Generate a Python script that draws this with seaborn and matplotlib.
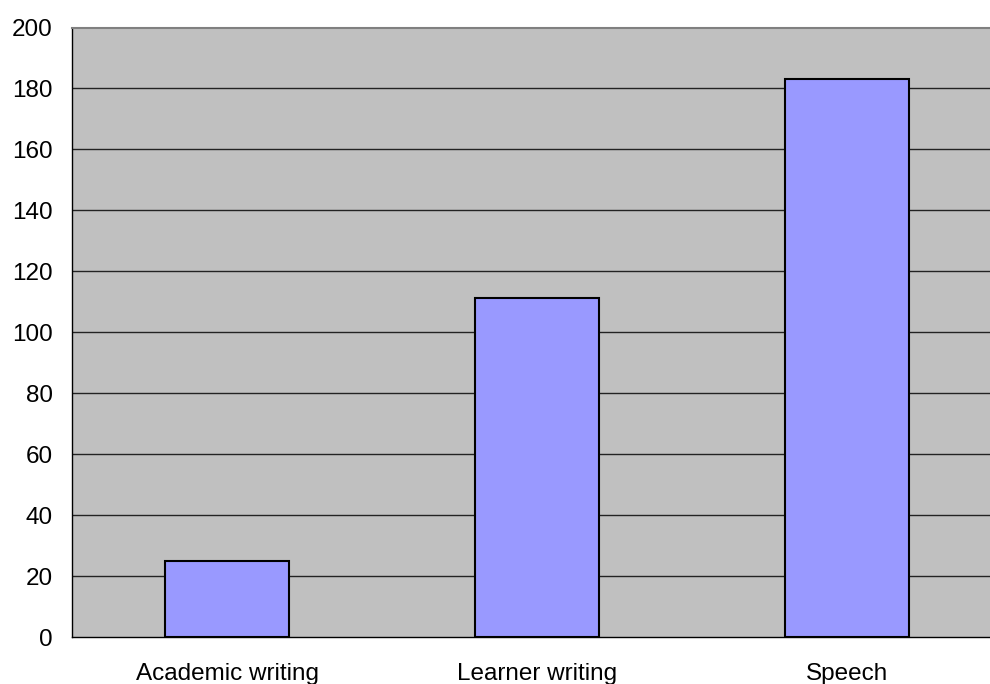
import matplotlib
matplotlib.use("Agg")
import matplotlib.pyplot as plt
import seaborn as sns
import pandas as pd
from matplotlib.ticker import FixedLocator, NullFormatter

categories = ["Academic writing", "Learner writing", "Speech"]
values = [25, 111.3, 183]
y_ticks = [0, 20, 40, 60, 80, 100, 120, 140, 160, 180, 200]

df = pd.DataFrame({"category": categories, "value": values})

sns.set_style("white")
plt.rcParams["font.family"] = ["Liberation Sans", "DejaVu Sans"]
plt.rcParams["text.color"] = "black"
plt.rcParams["xtick.color"] = "black"
plt.rcParams["ytick.color"] = "black"

W, H = 990, 684
fig = plt.figure(figsize=(W / 100, H / 100), dpi=100)
# plot area runs past the right edge of the canvas
left, right, top, bottom = 72, 1002, 27.5, 637
ax = fig.add_axes([left / W, (H - bottom) / H, (right - left) / W, (bottom - top) / H])
ax.set_facecolor("#C0C0C0")

for yv in y_ticks[1:-1]:
    ax.axhline(yv, color="#222222", lw=1.0, zorder=0.5)

sns.barplot(data=df, x="category", y="value", color="#9999FF", width=0.4,
            edgecolor="black", linewidth=1.5, saturation=1, ax=ax, zorder=2)

ax.set_xlim(-0.5, len(categories) - 0.5)
ax.set_ylim(0, 200)
ax.set_yticks(y_ticks)
ax.set_yticklabels([str(v) for v in y_ticks])
ax.set_xlabel("")
ax.set_ylabel("")

# category boundaries carry the tick marks, labels sit at the centres
ax.xaxis.set_major_locator(FixedLocator([i - 0.5 for i in range(len(categories) + 1)]))
ax.xaxis.set_major_formatter(NullFormatter())
ax.xaxis.set_minor_locator(FixedLocator(list(range(len(categories)))))
ax.set_xticklabels(categories, minor=True)
ax.tick_params(axis="x", which="major", direction="out", length=6, width=1, color="black")
ax.tick_params(axis="x", which="minor", length=0, pad=19, labelsize=17.5, labelcolor="black")
ax.tick_params(axis="y", direction="out", length=6, width=1, color="black", pad=8,
               labelsize=17.5, labelcolor="black")

for side in ("left", "bottom"):
    ax.spines[side].set_color("black")
    ax.spines[side].set_linewidth(1.0)
ax.spines["top"].set_color("#808080")
ax.spines["top"].set_linewidth(1.5)
ax.spines["right"].set_visible(False)

fig.savefig("out.png", dpi=100)
